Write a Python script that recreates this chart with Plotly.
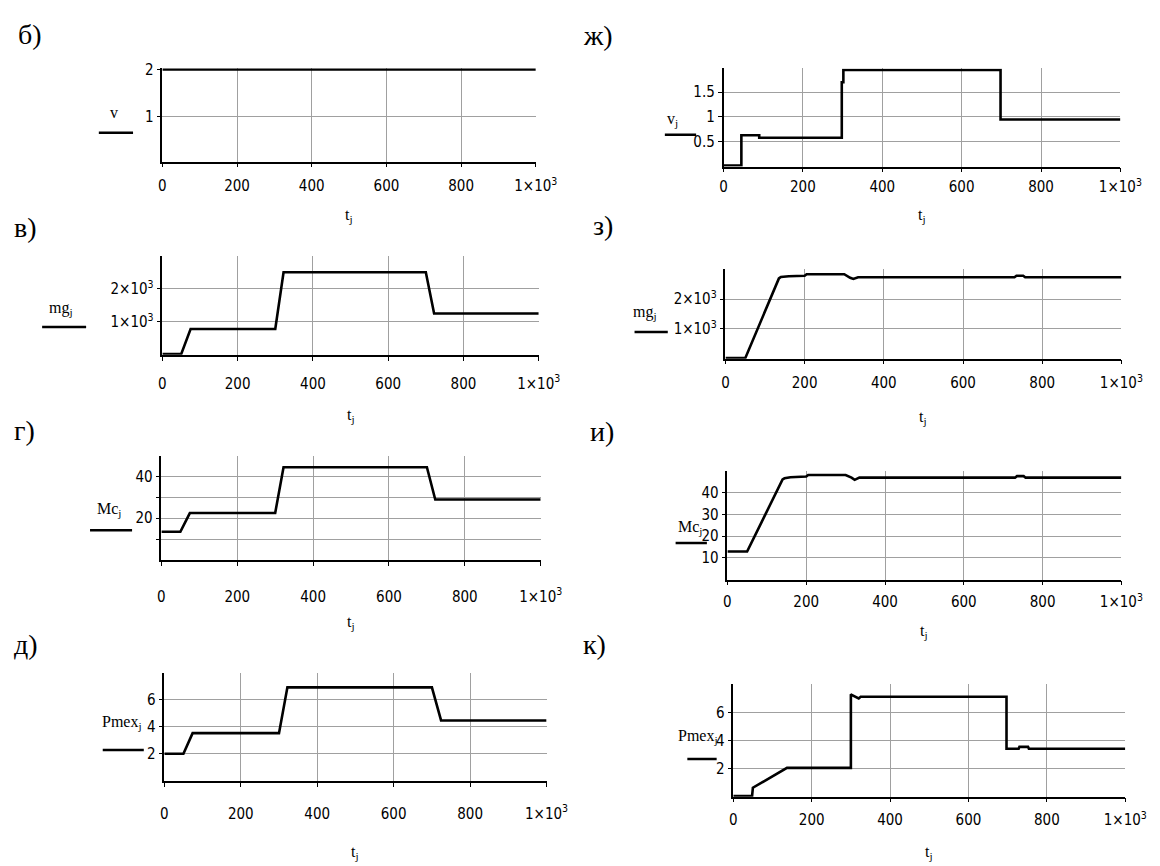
import plotly.graph_objects as go

W, H = 1160, 866

# ---------------- data ----------------
t_b = [0, 1000]
v_b = [2, 2]

t_zh = [0, 45, 45, 90, 90, 298, 298, 302, 302, 698, 698, 1000]
v_zh = [0.02, 0.02, 0.63, 0.63, 0.58, 0.58, 1.70, 1.70, 1.95, 1.95, 0.95, 0.95]

t_v = [0, 50, 75, 300, 322, 700, 722, 1000]
mg_v = [20, 20, 780, 780, 2500, 2500, 1250, 1250]

t_z = [0, 50, 135, 140, 160, 200, 205, 300, 315, 323, 335, 730, 735, 752, 757, 1000]
mg_z = [20, 20, 2700, 2750, 2770, 2790, 2840, 2840, 2720, 2680, 2740, 2740, 2790, 2790, 2740, 2740]

t_g = [0, 50, 75, 300, 322, 700, 722, 1000]
mc_g = [13.5, 13.5, 22.5, 22.5, 44.5, 44.5, 29, 29]

t_i = [0, 50, 140, 145, 160, 200, 205, 300, 315, 323, 335, 730, 735, 752, 757, 1000]
mc_i = [12.9, 12.9, 46.0, 46.5, 47.0, 47.3, 48.0, 48.0, 46.8, 45.8, 46.8, 46.8, 47.5, 47.5, 46.8, 46.8]

t_d = [0, 50, 74, 300, 322, 700, 724, 1000]
p_d = [2, 2, 3.53, 3.53, 6.92, 6.92, 4.47, 4.47]

t_k = [0, 48, 50, 137, 300, 300, 302, 320, 325, 697, 697, 728, 730, 752, 754, 1000]
p_k = [0.05, 0.05, 0.64, 2.05, 2.05, 7.29, 7.25, 7.0, 7.12, 7.12, 3.41, 3.41, 3.55, 3.55, 3.41, 3.41]

x_tickvals = [0, 200, 400, 600, 800, 1000]
x_ticktext = ["0", "200", "400", "600", "800", "1×10<sup>3</sup>"]

panel_letters = ["б)", "ж)", "в)", "з)", "г)", "и)", "д)", "к)"]
y_names = ["v", "v<sub>j</sub>", "mg<sub>j</sub>", "mg<sub>j</sub>",
           "Mc<sub>j</sub>", "Mc<sub>j</sub>", "Pmex<sub>j</sub>", "Pmex<sub>j</sub>"]

yticks = [
    ([1, 2], ["1", "2"]),
    ([0.5, 1, 1.5], ["0.5", "1", "1.5"]),
    ([1000, 2000], ["1×10<sup>3</sup>", "2×10<sup>3</sup>"]),
    ([1000, 2000], ["1×10<sup>3</sup>", "2×10<sup>3</sup>"]),
    ([10, 20, 30, 40], ["", "20", "", "40"]),
    ([10, 20, 30, 40], ["10", "20", "30", "40"]),
    ([2, 4, 6], ["2", "4", "6"]),
    ([2, 4, 6], ["2", "4", "6"]),
]

series = [(t_b, v_b), (t_zh, v_zh), (t_v, mg_v), (t_z, mg_z),
          (t_g, mc_g), (t_i, mc_i), (t_d, p_d), (t_k, p_k)]

# ---------------- layout geometry (pixels) ----------------
# x0, x1, top, bottom, yrange, x-label standoff, title y
geom = [
    (162, 544, 61, 155, [0.036, 2.02], 6, 209),
    (736, 1142, 61, 160, [0, 1.98], 2, 209),
    (162, 547, 250, 350, [0, 3000], 10, 411),
    (738, 1143, 263, 354, [0, 3030], 6, 413),
    (161, 549, 452, 557, [0, 50], 18, 620),
    (740, 1143, 467, 577, [0, 50], 4, 629),
    (164, 555, 671, 780, [0, 8], 14, 852),
    (746, 1147, 682, 796, [0, 8.05], 5, 852),
]

letter_pos = [(12, 27), (590, 28), (8, 222), (600, 220), (8, 426), (597, 427), (8, 642), (590, 642)]
# label centre, line x0, x1, y
ylab = [
    ((113, 105), (97, 132, 126)),
    ((684, 113), (676, 708, 128)),
    ((58, 303), (39, 84, 322)),
    ((656, 307), (645, 679, 327)),
    ((107, 506), (88, 131, 527)),
    ((702, 524), (687, 719, 540)),
    ((121, 721), (101, 143, 749)),
    ((710, 735), (699, 729, 758)),
]

tickfont = dict(family="DejaVu Sans Condensed, Liberation Sans Narrow, Liberation Sans",
                size=15, color="black")
serif = "Liberation Serif, Times New Roman, serif"

fig = go.Figure()
layout = dict(width=W, height=H, autosize=False, margin=dict(l=0, r=0, t=0, b=0),
              paper_bgcolor="white", plot_bgcolor="white", showlegend=False)
annotations = []
shapes = []

for i, ((tx, ty), (x0, x1, top, bot, yr, gap, ty_title)) in enumerate(zip(series, geom)):
    n = i + 1
    xa = "xaxis" if n == 1 else f"xaxis{n}"
    ya = "yaxis" if n == 1 else f"yaxis{n}"
    xr = "x" if n == 1 else f"x{n}"
    yrf = "y" if n == 1 else f"y{n}"
    layout[xa] = dict(domain=[x0 / W, x1 / W], range=[0, 1000], anchor=yrf,
                      tickvals=x_tickvals, ticktext=x_ticktext, tickfont=tickfont,
                      showgrid=True, gridcolor="#a0a0a0", gridwidth=1,
                      showline=True, linecolor="black", linewidth=1.5,
                      ticks="outside", ticklen=4, tickcolor="black", tickwidth=1,
                      zeroline=False, ticklabelstandoff=gap, fixedrange=True)
    tv, tt = yticks[i]
    layout[ya] = dict(domain=[1 - bot / H, 1 - top / H], range=yr, anchor=xr,
                      tickvals=tv, ticktext=tt, tickfont=tickfont,
                      showgrid=True, gridcolor="#a0a0a0", gridwidth=1,
                      showline=True, linecolor="black", linewidth=1.5,
                      ticks="outside", ticklen=4, tickcolor="black", tickwidth=1,
                      zeroline=False, fixedrange=True)
    fig.add_trace(go.Scatter(x=tx, y=ty, mode="lines", xaxis=xr, yaxis=yrf,
                             line=dict(color="black", width=2.6), hoverinfo="skip"))
    # x-axis title
    annotations.append(dict(text="t<sub>j</sub>", x=(x0 + x1) / 2 / W, y=1 - ty_title / H,
                            xanchor="center", yanchor="middle",
                            xref="paper", yref="paper", showarrow=False,
                            font=dict(family=serif, size=16, color="black")))
    # panel letter
    lx, lyy = letter_pos[i]
    annotations.append(dict(text=panel_letters[i], x=lx / W, y=1 - lyy / H, xanchor="left",
                            yanchor="middle", xref="paper", yref="paper", showarrow=False,
                            font=dict(family=serif, size=28, color="black")))
    # y label with legend line
    (cx, cy), (lx0, lx1, lly) = ylab[i]
    annotations.append(dict(text=y_names[i], x=cx / W, y=1 - cy / H, xref="paper", yref="paper",
                            xanchor="center", yanchor="middle",
                            showarrow=False, font=dict(family=serif, size=16, color="black")))
    shapes.append(dict(type="line", xref="paper", yref="paper", x0=lx0 / W, x1=lx1 / W,
                       y0=1 - lly / H, y1=1 - lly / H, line=dict(color="black", width=2.5)))

layout["annotations"] = annotations
layout["shapes"] = shapes
fig.update_layout(**layout)

fig.write_html("out.html", config={"displayModeBar": False},
               post_script="document.body.style.margin='0';document.body.style.overflow='hidden';")
